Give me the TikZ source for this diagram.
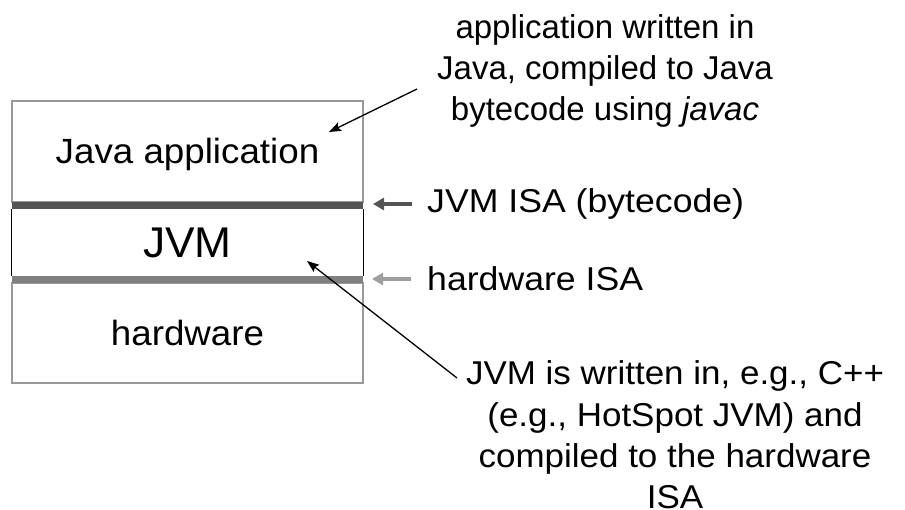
\documentclass[tikz,border=0pt]{standalone}
\usepackage{fontspec}
\setmainfont{Liberation Sans}
\newfontfamily\layerfont{Liberation Sans}[FakeStretch=1.05]
\newfontfamily\jvmfont{Liberation Sans}[FakeStretch=1.03]
\newfontfamily\isafont{Liberation Sans}[FakeStretch=1.08]
\newfontfamily\botfont{Liberation Sans}[FakeStretch=1.06]
\usetikzlibrary{arrows.meta}
\definecolor{boxgray}{gray}{0.6}
\definecolor{bardark}{gray}{0.33}
\definecolor{barlight}{gray}{0.5}
\definecolor{arrlight}{gray}{0.62}
\begin{document}
\begin{tikzpicture}[x=1pt,y=-1pt,
  layer/.style={draw=boxgray, line width=2pt, minimum width=351pt, inner sep=0pt, text height=25pt, text depth=0pt, font=\layerfont\fontsize{35}{40}\selectfont},
  bar/.style={fill=#1, draw=none, minimum width=351pt, minimum height=7pt, inner sep=0pt},
  note/.style={align=center, inner sep=0pt},
  lbl/.style={anchor=west, inner sep=0pt, font=\isafont\fontsize{33}{40}\selectfont},
  thinarrow/.style={-{Stealth[length=12pt,width=9pt,inset=2pt]}, line width=1.3pt},
  isaarrow/.style={-{Triangle[length=11pt,width=12pt]}, line width=4pt, draw=#1}
]
\useasboundingbox (0,0) rectangle (905,510);
% stack
\node[layer, minimum height=101pt] (app) at (187.5,151.5) {Java application};
\node[layer, minimum height=100pt] (hw) at (187.5,333) {hardware};
\node[bar=bardark] (isabar) at (187.5,205.5) {};
\node[bar=barlight] (hwbar) at (187.5,279.5) {};
\node[minimum width=351pt, minimum height=67pt, inner sep=0pt, text height=30pt, text depth=0pt, font=\jvmfont\fontsize{43}{48}\selectfont] (jvm) at (187.5,242.5) {JVM};
\draw[line width=1.3pt] (isabar.south west) -- (hwbar.north west);
\draw[line width=1.3pt] (isabar.south east) -- (hwbar.north east);
% notes
\node[note, font=\fontsize{33}{41.3}\selectfont] (note1) at (605,71) {application written in\\Java, compiled to Java\\bytecode using \textit{javac}};
\node[note, font=\botfont\fontsize{33}{41.3}\selectfont] (note2) at (675,435) {JVM is written in, e.g., C++\\(e.g., HotSpot JVM) and\\compiled to the hardware\\ISA};
\coordinate (n1s) at (417,89);
\coordinate (n1e) at (329,132);
\draw[thinarrow] (n1s) -- (n1e);
\coordinate (n2s) at (457,378);
\coordinate (n2e) at (307,261);
\draw[thinarrow] (n2s) -- (n2e);
% ISA labels
\node[lbl] (isa1) at (427,204) {JVM ISA (bytecode)};
\node[lbl] (isa2) at (427,279) {hardware ISA};
\coordinate (i1s) at (412,204);
\coordinate (i1e) at (373,204);
\coordinate (i2s) at (411,279);
\coordinate (i2e) at (372,279);
\draw[isaarrow=bardark] (i1s) -- (i1e);
\draw[isaarrow=arrlight] (i2s) -- (i2e);
\end{tikzpicture}
\end{document}
